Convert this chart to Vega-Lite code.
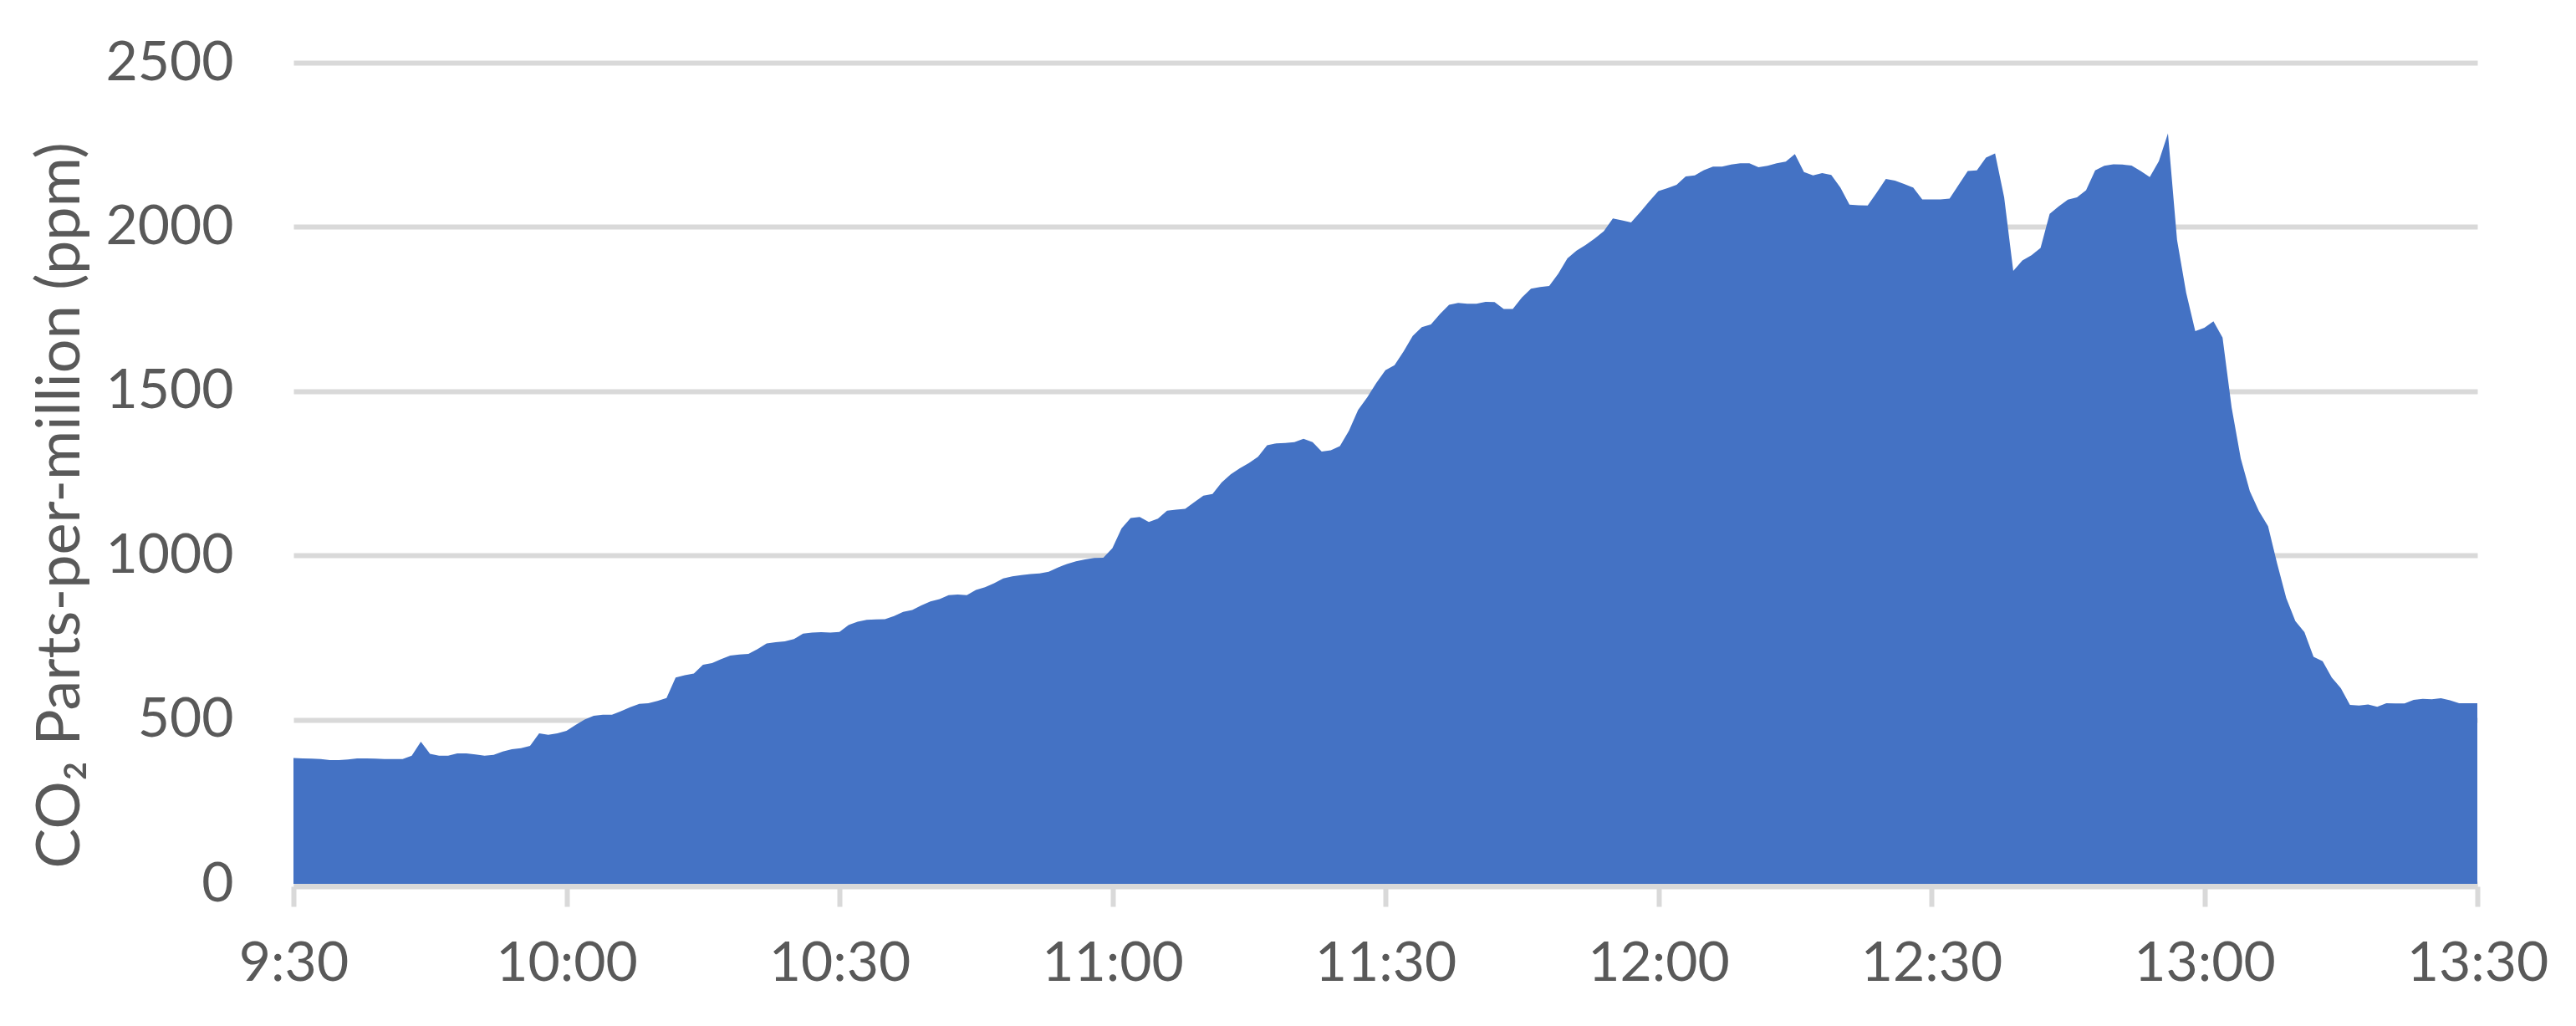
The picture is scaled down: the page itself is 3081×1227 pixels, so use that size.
{
  "$schema": "https://vega.github.io/schema/vega-lite/v6.json",
  "width": 2612,
  "height": 982,
  "autosize": {"type": "none"},
  "padding": {"left": 351, "top": 75, "right": 118, "bottom": 170},
  "background": "white",
  "config": {"view": {"stroke": null}, "font": "Lato"},
  "data": {
    "format": {"parse": {"t": "date:'%H:%M'"}},
    "values": [
{"t":"09:30","v":383},{"t":"09:31","v":382},{"t":"09:32","v":381},{"t":"09:33","v":380},{"t":"09:34","v":377},{"t":"09:35","v":377},{"t":"09:36","v":379},{"t":"09:37","v":382},{"t":"09:38","v":382},{"t":"09:39","v":381},
{"t":"09:40","v":380},{"t":"09:41","v":380},{"t":"09:42","v":380},{"t":"09:43","v":390},{"t":"09:44","v":433},{"t":"09:45","v":396},{"t":"09:46","v":390},{"t":"09:47","v":390},{"t":"09:48","v":397},{"t":"09:49","v":397},
{"t":"09:50","v":394},{"t":"09:51","v":390},{"t":"09:52","v":393},{"t":"09:53","v":403},{"t":"09:54","v":410},{"t":"09:55","v":413},{"t":"09:56","v":420},{"t":"09:57","v":458},{"t":"09:58","v":454},{"t":"09:59","v":458},
{"t":"10:00","v":466},{"t":"10:01","v":484},{"t":"10:02","v":500},{"t":"10:03","v":512},{"t":"10:04","v":515},{"t":"10:05","v":515},{"t":"10:06","v":526},{"t":"10:07","v":538},{"t":"10:08","v":548},{"t":"10:09","v":550},
{"t":"10:10","v":557},{"t":"10:11","v":566},{"t":"10:12","v":628},{"t":"10:13","v":635},{"t":"10:14","v":640},{"t":"10:15","v":667},{"t":"10:16","v":672},{"t":"10:17","v":684},{"t":"10:18","v":695},{"t":"10:19","v":698},
{"t":"10:20","v":700},{"t":"10:21","v":715},{"t":"10:22","v":732},{"t":"10:23","v":736},{"t":"10:24","v":738},{"t":"10:25","v":745},{"t":"10:26","v":762},{"t":"10:27","v":765},{"t":"10:28","v":766},{"t":"10:29","v":765},
{"t":"10:30","v":767},{"t":"10:31","v":788},{"t":"10:32","v":798},{"t":"10:33","v":804},{"t":"10:34","v":805},{"t":"10:35","v":806},{"t":"10:36","v":815},{"t":"10:37","v":828},{"t":"10:38","v":834},{"t":"10:39","v":848},
{"t":"10:40","v":860},{"t":"10:41","v":867},{"t":"10:42","v":879},{"t":"10:43","v":881},{"t":"10:44","v":879},{"t":"10:45","v":895},{"t":"10:46","v":903},{"t":"10:47","v":915},{"t":"10:48","v":930},{"t":"10:49","v":936},
{"t":"10:50","v":940},{"t":"10:51","v":943},{"t":"10:52","v":945},{"t":"10:53","v":950},{"t":"10:54","v":963},{"t":"10:55","v":974},{"t":"10:56","v":982},{"t":"10:57","v":988},{"t":"10:58","v":992},{"t":"10:59","v":993},
{"t":"11:00","v":1022},{"t":"11:01","v":1082},{"t":"11:02","v":1114},{"t":"11:03","v":1117},{"t":"11:04","v":1102},{"t":"11:05","v":1112},{"t":"11:06","v":1136},{"t":"11:07","v":1139},{"t":"11:08","v":1142},{"t":"11:09","v":1162},
{"t":"11:10","v":1182},{"t":"11:11","v":1187},{"t":"11:12","v":1222},{"t":"11:13","v":1247},{"t":"11:14","v":1265},{"t":"11:15","v":1281},{"t":"11:16","v":1300},{"t":"11:17","v":1335},{"t":"11:18","v":1341},{"t":"11:19","v":1342},
{"t":"11:20","v":1345},{"t":"11:21","v":1355},{"t":"11:22","v":1345},{"t":"11:23","v":1316},{"t":"11:24","v":1320},{"t":"11:25","v":1333},{"t":"11:26","v":1380},{"t":"11:27","v":1443},{"t":"11:28","v":1481},{"t":"11:29","v":1525},
{"t":"11:30","v":1564},{"t":"11:31","v":1579},{"t":"11:32","v":1621},{"t":"11:33","v":1668},{"t":"11:34","v":1695},{"t":"11:35","v":1703},{"t":"11:36","v":1735},{"t":"11:37","v":1763},{"t":"11:38","v":1769},{"t":"11:39","v":1766},
{"t":"11:40","v":1766},{"t":"11:41","v":1772},{"t":"11:42","v":1771},{"t":"11:43","v":1750},{"t":"11:44","v":1750},{"t":"11:45","v":1785},{"t":"11:46","v":1812},{"t":"11:47","v":1817},{"t":"11:48","v":1820},{"t":"11:49","v":1858},
{"t":"11:50","v":1904},{"t":"11:51","v":1928},{"t":"11:52","v":1945},{"t":"11:53","v":1965},{"t":"11:54","v":1987},{"t":"11:55","v":2026},{"t":"11:56","v":2020},{"t":"11:57","v":2014},{"t":"11:58","v":2045},{"t":"11:59","v":2078},
{"t":"12:00","v":2109},{"t":"12:01","v":2118},{"t":"12:02","v":2128},{"t":"12:03","v":2154},{"t":"12:04","v":2157},{"t":"12:05","v":2173},{"t":"12:06","v":2184},{"t":"12:07","v":2184},{"t":"12:08","v":2190},{"t":"12:09","v":2194},
{"t":"12:10","v":2194},{"t":"12:11","v":2182},{"t":"12:12","v":2186},{"t":"12:13","v":2194},{"t":"12:14","v":2199},{"t":"12:15","v":2222},{"t":"12:16","v":2167},{"t":"12:17","v":2157},{"t":"12:18","v":2164},{"t":"12:19","v":2158},
{"t":"12:20","v":2120},{"t":"12:21","v":2068},{"t":"12:22","v":2066},{"t":"12:23","v":2065},{"t":"12:24","v":2105},{"t":"12:25","v":2146},{"t":"12:26","v":2141},{"t":"12:27","v":2131},{"t":"12:28","v":2120},{"t":"12:29","v":2084},
{"t":"12:30","v":2084},{"t":"12:31","v":2084},{"t":"12:32","v":2086},{"t":"12:33","v":2128},{"t":"12:34","v":2170},{"t":"12:35","v":2172},{"t":"12:36","v":2211},{"t":"12:37","v":2224},{"t":"12:38","v":2090},{"t":"12:39","v":1866},
{"t":"12:40","v":1898},{"t":"12:41","v":1914},{"t":"12:42","v":1936},{"t":"12:43","v":2040},{"t":"12:44","v":2063},{"t":"12:45","v":2083},{"t":"12:46","v":2090},{"t":"12:47","v":2112},{"t":"12:48","v":2172},{"t":"12:49","v":2186},
{"t":"12:50","v":2191},{"t":"12:51","v":2190},{"t":"12:52","v":2187},{"t":"12:53","v":2170},{"t":"12:54","v":2152},{"t":"12:55","v":2200},{"t":"12:56","v":2285},{"t":"12:57","v":1960},{"t":"12:58","v":1800},{"t":"12:59","v":1683},
{"t":"13:00","v":1693},{"t":"13:01","v":1713},{"t":"13:02","v":1663},{"t":"13:03","v":1450},{"t":"13:04","v":1295},{"t":"13:05","v":1195},{"t":"13:06","v":1135},{"t":"13:07","v":1089},{"t":"13:08","v":975},{"t":"13:09","v":870},
{"t":"13:10","v":800},{"t":"13:11","v":766},{"t":"13:12","v":691},{"t":"13:13","v":678},{"t":"13:14","v":628},{"t":"13:15","v":596},{"t":"13:16","v":545},{"t":"13:17","v":543},{"t":"13:18","v":546},{"t":"13:19","v":539},
{"t":"13:20","v":550},{"t":"13:21","v":549},{"t":"13:22","v":549},{"t":"13:23","v":560},{"t":"13:24","v":563},{"t":"13:25","v":562},{"t":"13:26","v":565},{"t":"13:27","v":559},{"t":"13:28","v":550},{"t":"13:29","v":550},{"t":"13:30","v":550}
    ]
  },
  "mark": {"type": "area", "color": "#4472C4", "interpolate": "linear", "opacity": 1},
  "encoding": {
    "x": {
      "field": "t",
      "type": "temporal",
      "scale": {"domain": [
        {"year": 1900, "month": 1, "date": 1, "hours": 9, "minutes": 30},
        {"year": 1900, "month": 1, "date": 1, "hours": 13, "minutes": 30}
      ]},
      "axis": {
        "title": null,
        "values": [
          {"year": 1900, "month": 1, "date": 1, "hours": 9, "minutes": 30},
          {"year": 1900, "month": 1, "date": 1, "hours": 10, "minutes": 0},
          {"year": 1900, "month": 1, "date": 1, "hours": 10, "minutes": 30},
          {"year": 1900, "month": 1, "date": 1, "hours": 11, "minutes": 0},
          {"year": 1900, "month": 1, "date": 1, "hours": 11, "minutes": 30},
          {"year": 1900, "month": 1, "date": 1, "hours": 12, "minutes": 0},
          {"year": 1900, "month": 1, "date": 1, "hours": 12, "minutes": 30},
          {"year": 1900, "month": 1, "date": 1, "hours": 13, "minutes": 0},
          {"year": 1900, "month": 1, "date": 1, "hours": 13, "minutes": 30}
        ],
        "format": "%-H:%M",
        "grid": false,
        "offset": 3,
        "domainColor": "#D9D9D9",
        "domainWidth": 6,
        "tickColor": "#D9D9D9",
        "tickWidth": 6,
        "tickSize": 24,
        "labelColor": "#595959",
        "labelFont": "Lato",
        "labelFontSize": 66,
        "labelPadding": 36,
        "labelFlush": false,
        "labelOverlap": false,
        "labelBound": false
      }
    },
    "y": {
      "field": "v",
      "type": "quantitative",
      "scale": {"domain": [0, 2500]},
      "axis": {
        "title": "CO₂ Parts-per-million (ppm)",
        "values": [0, 500, 1000, 1500, 2000, 2500],
        "format": "d",
        "grid": true,
        "gridColor": "#D9D9D9",
        "gridWidth": 6,
        "domain": false,
        "ticks": false,
        "labelColor": "#595959",
        "labelFont": "Lato",
        "labelFontSize": 66,
        "labelPadding": 72,
        "labelFlush": false,
        "labelOverlap": false,
        "titleColor": "#595959",
        "titleFont": "Lato",
        "titleFontSize": 72,
        "titleFontWeight": "normal",
        "titleAngle": 270,
        "titleAlign": "center",
        "titleBaseline": "middle",
        "titleX": -279,
        "titleY": 529
      }
    }
  }
}
